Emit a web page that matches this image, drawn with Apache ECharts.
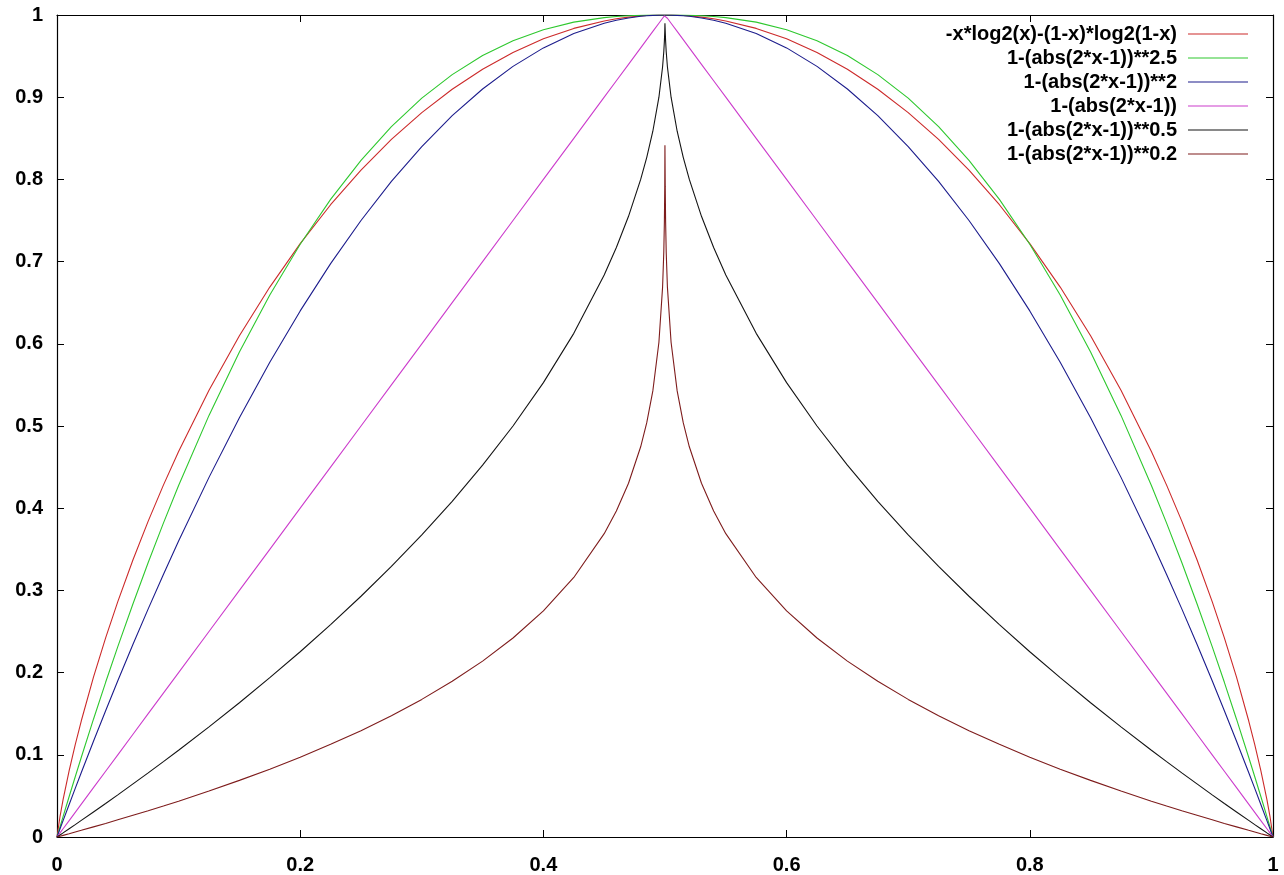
<!DOCTYPE html>
<html>
<head>
<meta charset="utf-8">
<script src="https://cdn.jsdelivr.net/npm/echarts@6/dist/echarts.min.js"></script>
<style>
  html, body { margin: 0; padding: 0; background: #fff; }
  #chart { width: 1284px; height: 875px; }
</style>
</head>
<body>
<div id="chart"></div>
<script>
// Sample positions along x (denser near the cusp at 0.5)
const xs = [
  0, 0.0025, 0.005, 0.01, 0.015, 0.02, 0.03, 0.04, 0.05, 0.0625, 0.075, 0.0875, 0.1, 0.125, 0.15, 0.175,
  0.2, 0.225, 0.25, 0.275, 0.3, 0.325, 0.35, 0.375, 0.4, 0.425, 0.45, 0.46, 0.47, 0.48, 0.485, 0.49,
  0.495, 0.498, 0.499, 0.4995, 0.4998, 0.49995,
  0.50005, 0.5002, 0.5005, 0.501, 0.502, 0.505, 0.51, 0.515, 0.52, 0.53, 0.54, 0.55, 0.575, 0.6,
  0.625, 0.65, 0.675, 0.7, 0.725, 0.75, 0.775, 0.8, 0.825, 0.85, 0.875, 0.9, 0.9125, 0.925, 0.9375,
  0.95, 0.96, 0.97, 0.98, 0.985, 0.99, 0.995, 0.9975, 1
];

const seriesNames = [
  '-x*log2(x)-(1-x)*log2(1-x)',
  '1-(abs(2*x-1))**2.5',
  '1-(abs(2*x-1))**2',
  '1-(abs(2*x-1))',
  '1-(abs(2*x-1))**0.5',
  '1-(abs(2*x-1))**0.2'
];

const entropy = [
  0, 0.0252, 0.0454, 0.0808, 0.1124, 0.1414, 0.1944, 0.2423, 0.2864, 0.3373, 0.3843, 0.4281, 0.4690,
  0.5436, 0.6098, 0.6690, 0.7219, 0.7692, 0.8113, 0.8486, 0.8813, 0.9097, 0.9341, 0.9544, 0.9710,
  0.9837, 0.9928, 0.9954, 0.9974, 0.9988, 0.9994, 0.9997, 0.9999, 1, 1, 1, 1, 1,
  1, 1, 1, 1, 1, 0.9999, 0.9997, 0.9994, 0.9988, 0.9974, 0.9954, 0.9928, 0.9837, 0.9710, 0.9544,
  0.9341, 0.9097, 0.8813, 0.8486, 0.8113, 0.7692, 0.7219, 0.6690, 0.6098, 0.5436, 0.4690, 0.4281,
  0.3843, 0.3373, 0.2864, 0.2423, 0.1944, 0.1414, 0.1124, 0.0808, 0.0454, 0.0252, 0
];

const pow25 = [
  0, 0.0125, 0.0248, 0.0493, 0.0733, 0.0970, 0.1433, 0.1882, 0.2316, 0.2838, 0.3339, 0.3818, 0.4276,
  0.5129, 0.5900, 0.6594, 0.7211, 0.7757, 0.8232, 0.8642, 0.8988, 0.9275, 0.9507, 0.9688, 0.9821,
  0.9913, 0.9968, 0.9982, 0.9991, 0.9997, 0.9998, 0.9999, 1, 1, 1, 1, 1, 1,
  1, 1, 1, 1, 1, 1, 0.9999, 0.9998, 0.9997, 0.9991, 0.9982, 0.9968, 0.9913, 0.9821, 0.9688, 0.9507,
  0.9275, 0.8988, 0.8642, 0.8232, 0.7757, 0.7211, 0.6594, 0.5900, 0.5129, 0.4276, 0.3818, 0.3339,
  0.2838, 0.2316, 0.1882, 0.1433, 0.0970, 0.0733, 0.0493, 0.0248, 0.0125, 0
];

const pow2 = [
  0, 0.0100, 0.0199, 0.0396, 0.0591, 0.0784, 0.1164, 0.1536, 0.1900, 0.2344, 0.2775, 0.3194, 0.3600,
  0.4375, 0.5100, 0.5775, 0.6400, 0.6975, 0.7500, 0.7975, 0.8400, 0.8775, 0.9100, 0.9375, 0.9600,
  0.9775, 0.9900, 0.9936, 0.9964, 0.9984, 0.9991, 0.9996, 0.9999, 1, 1, 1, 1, 1,
  1, 1, 1, 1, 1, 0.9999, 0.9996, 0.9991, 0.9984, 0.9964, 0.9936, 0.9900, 0.9775, 0.9600, 0.9375,
  0.9100, 0.8775, 0.8400, 0.7975, 0.7500, 0.6975, 0.6400, 0.5775, 0.5100, 0.4375, 0.3600, 0.3194,
  0.2775, 0.2344, 0.1900, 0.1536, 0.1164, 0.0784, 0.0591, 0.0396, 0.0199, 0.0100, 0
];

const pow1 = [
  0, 0.005, 0.01, 0.02, 0.03, 0.04, 0.06, 0.08, 0.1, 0.125, 0.15, 0.175, 0.2, 0.25, 0.3, 0.35, 0.4,
  0.45, 0.5, 0.55, 0.6, 0.65, 0.7, 0.75, 0.8, 0.85, 0.9, 0.92, 0.94, 0.96, 0.97, 0.98, 0.99, 0.996,
  0.998, 0.999, 0.9996, 0.9999,
  0.9999, 0.9996, 0.999, 0.998, 0.996, 0.99, 0.98, 0.97, 0.96, 0.94, 0.92, 0.9, 0.85, 0.8, 0.75, 0.7,
  0.65, 0.6, 0.55, 0.5, 0.45, 0.4, 0.35, 0.3, 0.25, 0.2, 0.175, 0.15, 0.125, 0.1, 0.08, 0.06, 0.04,
  0.03, 0.02, 0.01, 0.005, 0
];

const pow05 = [
  0, 0.0025, 0.0050, 0.0101, 0.0151, 0.0202, 0.0305, 0.0408, 0.0513, 0.0646, 0.0780, 0.0917, 0.1056,
  0.1340, 0.1633, 0.1938, 0.2254, 0.2584, 0.2929, 0.3292, 0.3675, 0.4084, 0.4523, 0.5000, 0.5528,
  0.6127, 0.6838, 0.7172, 0.7551, 0.8000, 0.8268, 0.8586, 0.9000, 0.9368, 0.9553, 0.9684, 0.9800, 0.9900,
  0.9900, 0.9800, 0.9684, 0.9553, 0.9368, 0.9000, 0.8586, 0.8268, 0.8000, 0.7551, 0.7172, 0.6838,
  0.6127, 0.5528, 0.5000, 0.4523, 0.4084, 0.3675, 0.3292, 0.2929, 0.2584, 0.2254, 0.1938, 0.1633,
  0.1340, 0.1056, 0.0917, 0.0780, 0.0646, 0.0513, 0.0408, 0.0305, 0.0202, 0.0151, 0.0101, 0.0050, 0.0025, 0
];

const pow02 = [
  0, 0.0010, 0.0020, 0.0040, 0.0061, 0.0081, 0.0123, 0.0165, 0.0209, 0.0264, 0.0320, 0.0377, 0.0436,
  0.0559, 0.0689, 0.0825, 0.0971, 0.1127, 0.1294, 0.1476, 0.1674, 0.1894, 0.2140, 0.2421, 0.2752,
  0.3157, 0.3690, 0.3966, 0.4303, 0.4747, 0.5041, 0.5427, 0.6019, 0.6686, 0.7115, 0.7488, 0.7909, 0.8415,
  0.8415, 0.7909, 0.7488, 0.7115, 0.6686, 0.6019, 0.5427, 0.5041, 0.4747, 0.4303, 0.3966, 0.3690,
  0.3157, 0.2752, 0.2421, 0.2140, 0.1894, 0.1674, 0.1476, 0.1294, 0.1127, 0.0971, 0.0825, 0.0689,
  0.0559, 0.0436, 0.0377, 0.0320, 0.0264, 0.0209, 0.0165, 0.0123, 0.0081, 0.0061, 0.0040, 0.0020, 0.0010, 0
];

const seriesValues = [entropy, pow25, pow2, pow1, pow05, pow02];
const seriesColors = ['#cc2a2a', '#2ec82e', '#1c1c8c', '#cc3ccc', '#141414', '#7e1c1c'];

const FONT = '"Liberation Sans", Arial, sans-serif';
const labelStyle = { color: '#000', fontWeight: 'bold', fontSize: 20, fontFamily: FONT };
const frameLine = { show: true, onZero: false, lineStyle: { color: '#000', width: 1.2 } };
const innerTick = { show: true, inside: true, length: 7, lineStyle: { color: '#000', width: 1 } };

const chart = echarts.init(document.getElementById('chart'), null, { renderer: 'canvas' });

chart.setOption({
  animation: false,
  backgroundColor: '#fff',
  grid: { left: 57, right: 11, top: 15, bottom: 38, containLabel: false, outerBoundsMode: 'none' },
  legend: {
    orient: 'vertical',
    align: 'right',
    right: 36,
    top: 24,
    padding: 0,
    itemWidth: 60,
    itemHeight: 16,
    itemGap: 4,
    icon: 'path://M0,7.5L60,7.5L60,8.5L0,8.5Z',
    textStyle: {
      color: '#000', fontWeight: 'bold', fontSize: 20, lineHeight: 16,
      fontFamily: FONT, padding: [0, 6, 0, 0]
    },
    data: seriesNames
  },
  xAxis: [
    {
      type: 'value', position: 'bottom', min: 0, max: 1, interval: 0.2,
      axisLine: frameLine, axisTick: innerTick, splitLine: { show: false },
      axisLabel: Object.assign({ margin: 18 }, labelStyle)
    },
    {
      type: 'value', position: 'top', min: 0, max: 1, interval: 0.2,
      axisLine: frameLine, axisTick: innerTick, splitLine: { show: false },
      axisLabel: { show: false }
    }
  ],
  yAxis: [
    {
      type: 'value', position: 'left', min: 0, max: 1, interval: 0.1,
      axisLine: frameLine, axisTick: innerTick, splitLine: { show: false },
      axisLabel: Object.assign({ margin: 14 }, labelStyle)
    },
    {
      type: 'value', position: 'right', min: 0, max: 1, interval: 0.1,
      axisLine: frameLine, axisTick: innerTick, splitLine: { show: false },
      axisLabel: { show: false }
    }
  ],
  series: seriesNames.map((name, k) => ({
    name: name,
    type: 'line',
    xAxisIndex: 0,
    yAxisIndex: 0,
    symbol: 'none',
    showSymbol: false,
    clip: true,
    color: seriesColors[k],
    lineStyle: { color: seriesColors[k], width: 1.1 },
    data: xs.map((x, i) => [x, seriesValues[k][i]])
  }))
});
</script>
</body>
</html>
